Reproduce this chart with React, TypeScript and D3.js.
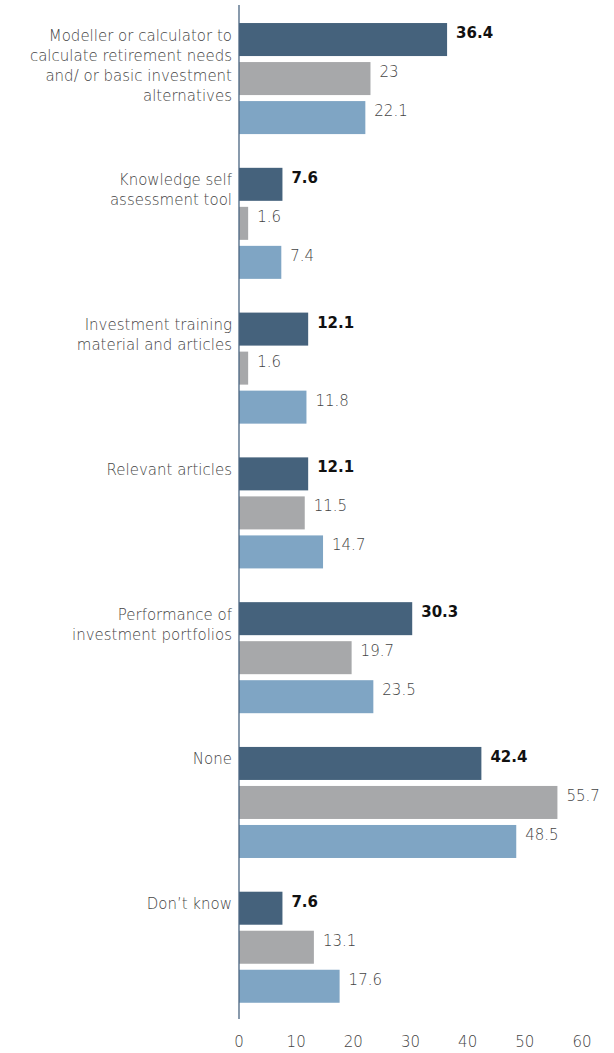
import React from "react";
import * as d3 from "d3";

const categories = [
  "Modeller or calculator to|calculate retirement needs|and/ or basic investment|alternatives",
  "Knowledge self|assessment tool",
  "Investment training|material and articles",
  "Relevant articles",
  "Performance of|investment portfolios",
  "None",
  "Don’t know",
];
const seriesNames = ["Series 1", "Series 2", "Series 3"];
const series1 = [36.4, 7.6, 12.1, 12.1, 30.3, 42.4, 7.6];
const series2 = [23, 1.6, 1.6, 11.5, 19.7, 55.7, 13.1];
const series3 = [22.1, 7.4, 11.8, 14.7, 23.5, 48.5, 17.6];
const tickValues = [0, 10, 20, 30, 40, 50, 60];
const colors = ["#45627c", "#a7a8aa", "#7fa5c4"];

const W = 614;
const H = 1053;
const FONT = "'DejaVu Sans', 'Open Sans', sans-serif";

export default function App() {
  const x = d3.scaleLinear().domain([0, 60]).range([239, 582]);
  const y = d3
    .scaleBand<string>()
    .domain(categories)
    .range([6.1, 1019.7])
    .paddingInner(0.233)
    .paddingOuter(0.117);
  const sub = d3
    .scaleBand<string>()
    .domain(seriesNames)
    .range([0, y.bandwidth()])
    .paddingInner(0.154);
  const allSeries = [series1, series2, series3];

  return (
    <svg
      width={W}
      height={H}
      style={{ position: "absolute", left: 0, top: 0, background: "#fff" }}
      fontFamily={FONT}
    >
      {categories.map((c, i) => {
        const top = y(c)!;
        const lines = c.split("|");
        return (
          <g key={c}>
            {lines.map((ln, k) => (
              <text
                key={k}
                x={232}
                y={top + 17.5 + k * 20}
                textAnchor="end"
                fontSize={15}
                fill="#444"
                fontWeight={200}
              >
                {ln}
              </text>
            ))}
            {allSeries.map((s, j) => {
              const by = top + sub(seriesNames[j])!;
              const v = s[i];
              return (
                <g key={j}>
                  <rect
                    x={x(0)}
                    y={by}
                    width={x(v) - x(0)}
                    height={sub.bandwidth()}
                    fill={colors[j]}
                  />
                  <text
                    x={x(v) + 9}
                    y={by + 15}
                    fontSize={15}
                    fontWeight={j === 0 ? 700 : 200}
                    fill={j === 0 ? "#111" : "#444"}
                  >
                    {v}
                  </text>
                </g>
              );
            })}
          </g>
        );
      })}
      <line x1={x(0)} x2={x(0)} y1={5} y2={1019} stroke="#4a6580" strokeWidth={1.3} />
      {tickValues.map((t) => (
        <text
          key={t}
          x={x(t)}
          y={1047}
          textAnchor="middle"
          fontSize={15}
          fill="#444"
          fontWeight={200}
        >
          {t}
        </text>
      ))}
    </svg>
  );
}
